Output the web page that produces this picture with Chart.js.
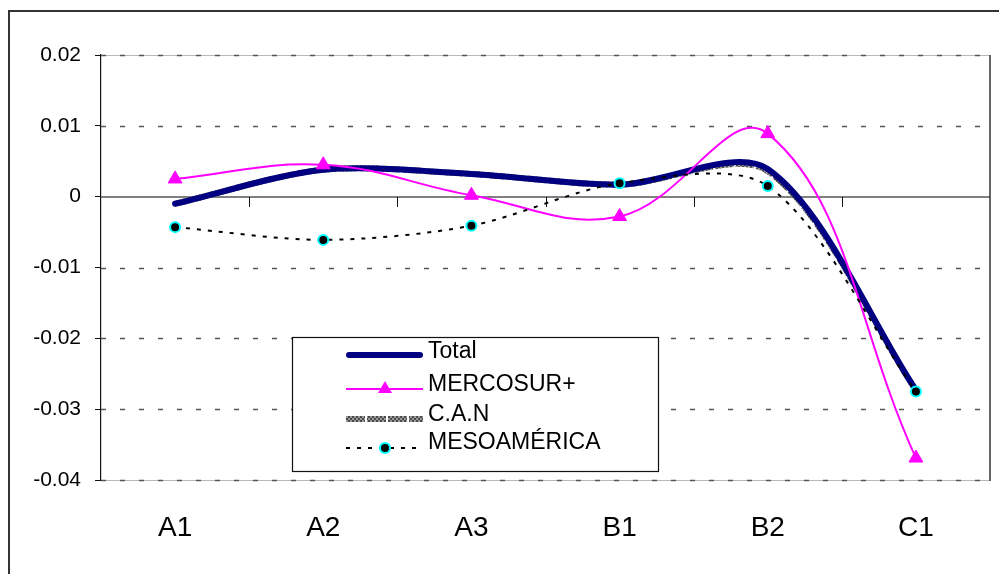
<!DOCTYPE html>
<html>
<head>
<meta charset="utf-8">
<script src="https://cdn.jsdelivr.net/npm/chart.js@4/dist/chart.umd.min.js"></script>
<style>
  html, body { margin: 0; padding: 0; background: #fff; }
  #wrap { width: 999px; height: 574px; position: relative; overflow: hidden; }
</style>
</head>
<body>
<div id="wrap"><canvas id="c" width="999" height="574"></canvas></div>
<script>
// Categories along the x axis
const categories = ['A1', 'A2', 'A3', 'B1', 'B2', 'C1'];

// Series values
const total       = [-0.0010, 0.0038, 0.0032, 0.0017, 0.0039, -0.0273];
const mercosur    = [ 0.0025, 0.0045, 0.0002, -0.0028, 0.0089, -0.0369];
const can         = [-0.0010, 0.0038, 0.0032, 0.0017, 0.0036, -0.0273];
const mesoamerica = [-0.0043, -0.0061, -0.0041, 0.0019, 0.0015, -0.0275];

// Y axis ticks
const yTicks = [-0.04, -0.03, -0.02, -0.01, 0, 0.01, 0.02];
const yTickLabels = ['-0.04', '-0.03', '-0.02', '-0.01', '0', '0.01', '0.02'];

const FONT = "'Liberation Sans', Arial, sans-serif";

// Hatched grey stroke used by the C.A.N line
function hatchPattern(ctx) {
  const p = document.createElement('canvas');
  p.width = 4; p.height = 4;
  const g = p.getContext('2d');
  g.fillStyle = '#9a9a9a';
  g.fillRect(0, 0, 4, 4);
  g.fillStyle = '#4a4a4a';
  g.fillRect(0, 0, 2, 2);
  g.fillRect(2, 2, 2, 2);
  return ctx.createPattern(p, 'repeat');
}

const canvas = document.getElementById('c');
const ctx2d = canvas.getContext('2d');
const hatch = hatchPattern(ctx2d);

// Grid lines, zero axis and category tick marks
const gridPlugin = {
  id: 'excelGrid',
  beforeDatasetsDraw(chart) {
    const { ctx, chartArea: a, scales: { x, y } } = chart;
    ctx.save();
    yTicks.forEach(v => {
      const py = Math.round(y.getPixelForValue(v)) + 0.5;
      if (v === 0) return;
      if (v === yTicks[0] || v === yTicks[yTicks.length - 1]) {
        ctx.strokeStyle = '#b8b8b8';
        ctx.lineWidth = 1;
        ctx.setLineDash([]);
        ctx.beginPath(); ctx.moveTo(a.left, py); ctx.lineTo(a.right, py); ctx.stroke();
      }
      ctx.strokeStyle = '#555';
      ctx.lineWidth = 1.3;
      ctx.setLineDash([5, 14]);
      ctx.beginPath(); ctx.moveTo(a.left, py); ctx.lineTo(a.right, py); ctx.stroke();
    });
    ctx.setLineDash([]);
    // zero line acting as the category axis
    const z = Math.round(y.getPixelForValue(0));
    ctx.strokeStyle = '#808080';
    ctx.lineWidth = 2;
    ctx.beginPath(); ctx.moveTo(a.left, z); ctx.lineTo(a.right, z); ctx.stroke();
    // tick marks between categories
    ctx.strokeStyle = '#111';
    ctx.lineWidth = 1;
    for (let i = 0; i < categories.length - 1; i++) {
      const px = Math.round((x.getPixelForValue(i) + x.getPixelForValue(i + 1)) / 2) + 0.5;
      ctx.beginPath(); ctx.moveTo(px, z); ctx.lineTo(px, z + 10); ctx.stroke();
    }
    // right edge of the plot area
    ctx.strokeStyle = '#333';
    ctx.lineWidth = 1.5;
    ctx.beginPath(); ctx.moveTo(a.right, a.top); ctx.lineTo(a.right, a.bottom + 1); ctx.stroke();
    ctx.restore();
  }
};

// Boxed legend inside the plot and outer frame
const legendPlugin = {
  id: 'boxLegend',
  afterDraw(chart) {
    const { ctx } = chart;
    ctx.save();
    // outer chart frame
    ctx.strokeStyle = '#333';
    ctx.lineWidth = 2;
    ctx.strokeRect(9, 11, 1100, 700);

    const bx = 292, by = 337, bw = 366, bh = 134;
    ctx.fillStyle = '#fff';
    ctx.fillRect(bx, by, bw, bh);
    ctx.strokeStyle = '#111';
    ctx.lineWidth = 1.2;
    ctx.strokeRect(bx + 0.5, by + 0.5, bw, bh);

    const x0 = 346, x1 = 423, mx = 385, tx = 428;
    const rows = [
      { label: 'Total',       text: 352, line: 355 },
      { label: 'MERCOSUR+',   text: 385, line: 389 },
      { label: 'C.A.N',       text: 415, line: 419 },
      { label: 'MESOAMÉRICA', text: 443, line: 448 }
    ];
    // Total
    ctx.lineCap = 'round';
    ctx.strokeStyle = '#000080'; ctx.lineWidth = 6;
    ctx.beginPath(); ctx.moveTo(x0 + 3, rows[0].line); ctx.lineTo(x1 - 3, rows[0].line); ctx.stroke();
    ctx.lineCap = 'butt';
    // MERCOSUR+
    ctx.strokeStyle = '#ff00ff'; ctx.lineWidth = 2;
    ctx.beginPath(); ctx.moveTo(x0, rows[1].line); ctx.lineTo(x1, rows[1].line); ctx.stroke();
    ctx.fillStyle = '#ff00ff';
    ctx.beginPath();
    ctx.moveTo(mx, rows[1].line - 8);
    ctx.lineTo(mx + 7, rows[1].line + 4);
    ctx.lineTo(mx - 7, rows[1].line + 4);
    ctx.closePath(); ctx.fill();
    // C.A.N
    ctx.strokeStyle = hatch; ctx.lineWidth = 6;
    ctx.setLineDash([19, 2]);
    ctx.beginPath(); ctx.moveTo(x0, rows[2].line); ctx.lineTo(x1, rows[2].line); ctx.stroke();
    // MESOAMÉRICA
    ctx.strokeStyle = '#000'; ctx.lineWidth = 2;
    ctx.setLineDash([4, 7]);
    ctx.beginPath(); ctx.moveTo(x0, rows[3].line); ctx.lineTo(x1, rows[3].line); ctx.stroke();
    ctx.setLineDash([]);
    ctx.beginPath(); ctx.arc(mx, rows[3].line, 5, 0, Math.PI * 2);
    ctx.fillStyle = '#000'; ctx.fill();
    ctx.strokeStyle = '#00ffff'; ctx.lineWidth = 2; ctx.stroke();

    ctx.fillStyle = '#000';
    ctx.font = '23px ' + FONT;
    ctx.textAlign = 'left';
    ctx.textBaseline = 'middle';
    rows.forEach(r => ctx.fillText(r.label, tx, r.text));
    ctx.restore();
  }
};

new Chart(ctx2d, {
  type: 'line',
  data: {
    labels: categories,
    datasets: [
      {
        label: 'Total', data: total, order: 2,
        borderColor: '#000080', borderWidth: 6, borderCapStyle: 'round', borderJoinStyle: 'round',
        pointRadius: 0, tension: 0.3, fill: false
      },
      {
        label: 'MERCOSUR+', data: mercosur, order: 1,
        borderColor: '#ff00ff', borderWidth: 2,
        pointStyle: 'triangle', pointRadius: 8, pointBackgroundColor: '#ff00ff',
        pointBorderColor: '#ff00ff', pointBorderWidth: 1, tension: 0.4, fill: false
      },
      {
        label: 'C.A.N', data: can, order: 3,
        borderColor: hatch, borderWidth: 6, borderDash: [19, 2],
        pointRadius: 0, tension: 0.3, fill: false
      },
      {
        label: 'MESOAMÉRICA', data: mesoamerica, order: 0,
        borderColor: '#000', borderWidth: 2, borderDash: [4, 7],
        pointStyle: 'circle', pointRadius: 5, pointBackgroundColor: '#000',
        pointBorderColor: '#00ffff', pointBorderWidth: 2, tension: 0.3, fill: false
      }
    ]
  },
  options: {
    responsive: false,
    animation: false,
    events: [],
    layout: { padding: { top: 55, right: 9, left: 0, bottom: 0 } },
    plugins: { legend: { display: false }, tooltip: { enabled: false } },
    scales: {
      x: {
        type: 'category',
        offset: true,
        grid: { display: false, drawTicks: false },
        border: { display: false },
        ticks: { color: '#000', font: { family: FONT, size: 28 }, padding: 31, maxRotation: 0 },
        afterFit(s) { s.height = 94; }
      },
      y: {
        min: -0.04, max: 0.02,
        grid: { display: true, drawOnChartArea: false, color: '#111', tickLength: 6, tickWidth: 1 },
        border: { display: true, color: '#111', width: 1.2 },
        afterBuildTicks(s) { s.ticks = yTicks.map(v => ({ value: v })); },
        ticks: {
          color: '#000', font: { family: FONT, size: 21 }, padding: 14,
          callback(v) { return yTickLabels[yTicks.indexOf(v)] ?? String(v); }
        },
        afterFit(s) { s.width = 101; }
      }
    }
  },
  plugins: [gridPlugin, legendPlugin]
});
</script>
</body>
</html>
